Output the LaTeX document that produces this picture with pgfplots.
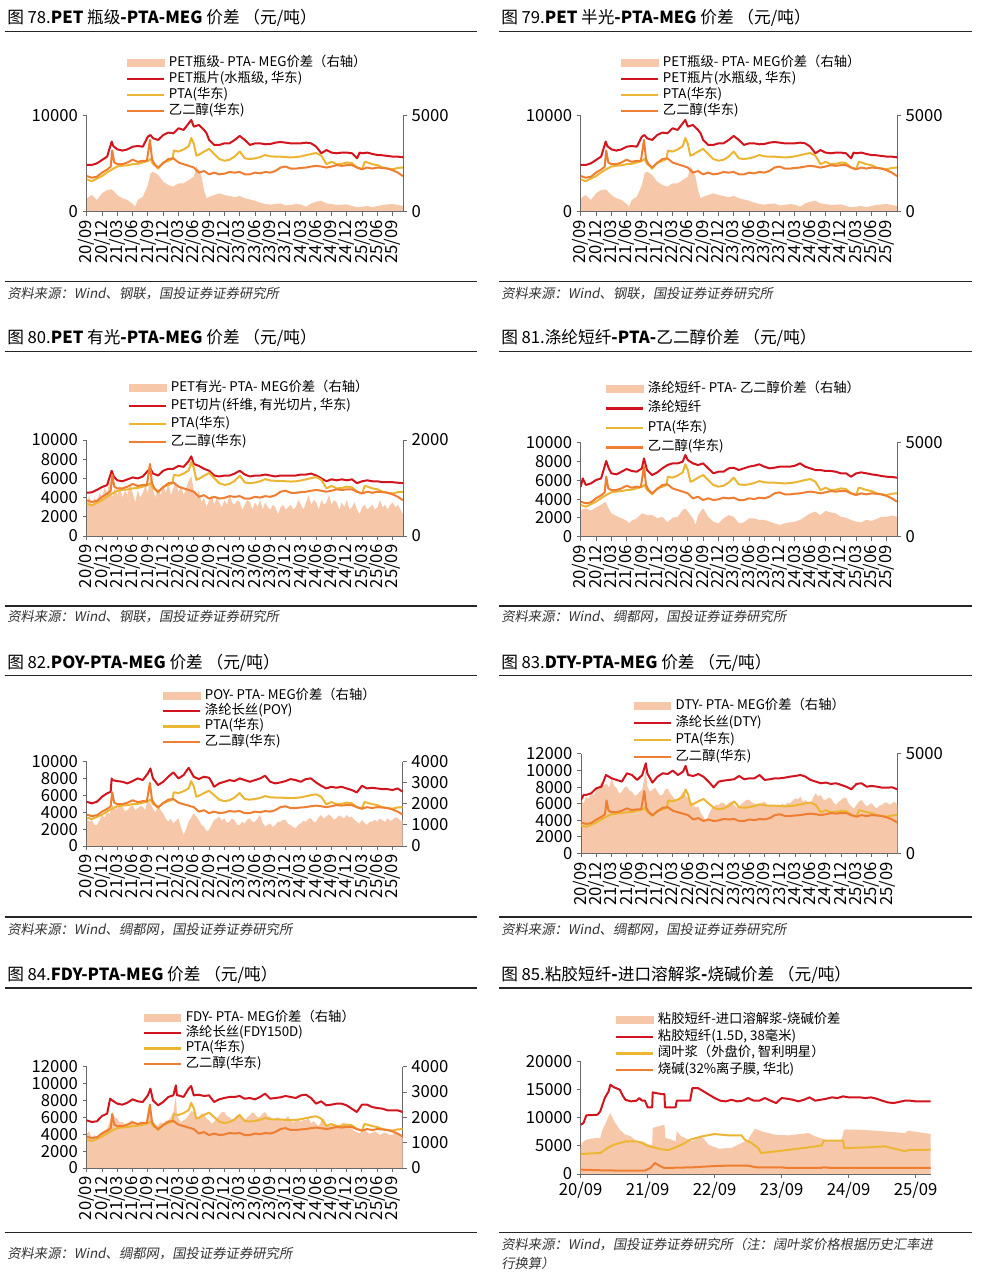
\documentclass[border=0pt]{standalone}
\usepackage{fontspec}
\setmainfont{Noto Sans CJK SC}
\newfontfamily\srcfont{Noto Sans CJK SC}[FakeSlant=0.18]
\usepackage{pgfplots}
\usepackage{pgfplotstable}
\pgfplotsset{compat=1.18}
\definecolor{cred}{RGB}{210,20,30}
\definecolor{cyel}{RGB}{236,182,52}
\definecolor{cora}{RGB}{238,126,50}
\definecolor{carea}{RGB}{247,199,170}
\definecolor{axgray}{RGB}{105,105,105}
\newcommand\titlefont{\fontsize{12.5}{14}\selectfont}
\newcommand\legfont{\fontsize{10}{12}\selectfont}
\newcommand\tickfont{\fontsize{12.5}{13}\selectfont}
\newcommand\srcf{\srcfont\fontsize{10}{12}\selectfont}

\pgfplotsset{
  base/.style={scale only axis, xmin=0, xmax=62,
    scaled y ticks=false, scaled x ticks=false,
    tick style={draw=axgray, line width=0.7pt},
    tick align=outside, major tick length=3pt,
    ticklabel style={font=\tickfont, text=black},
    /pgf/number format/assume math mode=true,
    /pgf/number format/1000 sep={},
    /pgf/number format/fixed},
  nolinearrows/.style={axis line style={-, draw=axgray, line width=0.7pt},
    every outer x axis line/.append style={-},
    every outer y axis line/.append style={-},
    every inner x axis line/.append style={-},
    every inner y axis line/.append style={-}},
  rightax/.style={base, axis y line*=right, axis x line=none, ymin=0, nolinearrows},
  leftax/.style={base, axis y line*=left, axis x line*=bottom, ymin=0, nolinearrows,
    xtick={0,3,...,60},
    xticklabels={20/09,20/12,21/03,21/06,21/09,21/12,22/03,22/06,22/09,22/12,23/03,23/06,23/09,23/12,24/03,24/06,24/09,24/12,25/03,25/06,25/09},
    xticklabel style={rotate=90, anchor=east},
    legend cell align=left,
    legend image code/.code={\draw[##1, line width=1.7pt] (0pt,0pt) -- (27.5pt,0pt);},
    legend style={anchor=north west, draw=none, fill=none, font=\legfont, inner sep=0pt, outer sep=0pt,
      nodes={inner sep=0pt, text height=7pt, text depth=2pt},
      /tikz/every odd column/.append style={column sep=3pt}}},
  areast/.style={fill=carea, draw=none},
  redst/.style={cred, line width=1.5pt, line join=round},
  yelst/.style={cyel, line width=1.5pt, line join=round},
  orast/.style={cora, line width=1.5pt, line join=round},
  areaimg/.style={legend image code/.code={\fill[carea] (0pt,-2.75pt) rectangle (27.5pt,2.75pt);}},
}

% ---------------- shared series ----------------
\pgfplotstableread{
x y
0 3370
1 3190
2 3450
3 3720
4 4100
5 4430
6 4716
7 4800
8 4850
9 4960
10 5000
11 5140
12 5300
12.5 5500
13 5000
13.5 4790
14 4500
15 5140
16 5300
16.8 5500
17.1 6380
18 6280
19 6500
20 6840
20.5 7700
21 7090
21.5 5850
22 5950
23 6280
24 6560
25 6030
26 5500
27 5320
28 5425
29 5745
30 6280
31 5570
32 5500
33 5570
34 5700
35 5920
36 5780
37 5750
38 5745
39 5700
40 5670
41 5700
42 5780
43 5900
44 6030
45 6130
46 5850
47 4960
48 5210
49 4960
50 5000
51 5140
52 5070
53 4610
54 4430
54.5 5210
55 5150
56 4960
57 4860
58 4610
59 4500
60 4430
61 4570
62 4610
}\pta
\pgfplotstableread{
x y
0 3720
1 3550
2 3650
3 4080
4 4400
4.7 4700
5.0 6380
5.4 5150
6 4960
7 4960
8 5140
9 5425
10 5210
11 5320
11.8 5300
12.4 7500
12.8 5500
13.3 4960
14 4610
15 5070
16 5500
17 5570
18 5140
19 4960
20 4790
21 4610
22 4080
23 4250
24 3900
25 4080
26 3900
27 3970
28 4150
29 4080
30 4150
31 3900
32 3900
33 4080
34 4000
35 4150
36 4080
37 4250
38 4610
39 4716
40 4500
41 4500
42 4570
43 4610
44 4716
45 4790
46 4716
47 4610
48 4716
49 4860
50 4790
51 4860
52 4860
53 4610
54 4430
55 4610
56 4500
57 4610
58 4570
59 4500
60 4330
61 4080
62 3720
}\meg

% ---------------- panel 78/79 ----------------
\pgfplotstableread{
x y
0 4880
1 4880
2 5050
3 5400
4 5750
4.9 7320
5.2 6860
6 6510
7 6380
8 6510
9 6790
10 6860
11 6790
12 7840
12.5 8010
13 7670
14 7490
15 8010
16 8260
17 8190
18 8710
19 8540
20 9230
20.5 9580
21 8880
22 9060
23 8540
23.5 8190
24 7490
25 6970
26 6970
27 7140
28 7140
29 7490
30 7910
31 7490
32 6970
33 7140
34 7140
35 7040
36 7070
37 7210
38 7280
39 7210
40 7140
41 7140
42 7140
43 7210
44 7140
45 6790
46 6100
47 6440
48 6170
49 6100
50 6170
51 6170
52 6100
53 5570
53.5 6170
54 6100
55 6170
56 6030
57 5920
58 5890
59 5820
60 5750
61 5750
62 5680
}\redA
\pgfplotstableread{
x y
0 700
1 870
2 610
3 960
4 1130
4.8 1170
5.2 1100
6 870
7 700
8 610
9 400
9.5 260
10 610
11 780
12 1390
12.5 2000
13 2090
14 1920
15 1570
16 1390
17 1310
18 1480
19 1480
20 1650
21 1830
21.5 2350
22 2180
22.5 1830
23 1130
23.5 700
24 780
25 870
26 960
27 870
28 820
29 750
30 820
31 700
32 640
33 570
34 470
35 400
36 370
37 400
38 430
39 330
40 350
41 400
42 370
43 260
44 430
45 520
46 570
47 430
48 400
49 350
50 370
51 380
52 300
53 230
54 260
55 300
56 230
57 300
58 350
59 380
60 400
61 350
62 300
}\areaA

% ---------------- panel 80 ----------------
\pgfplotstableread{
x y
0 4500
1 4550
2 4800
3 5100
4 5300
4.9 6800
5.3 6200
6 5800
7 5700
8 5900
9 6100
10 6000
11 6200
12 6800
12.5 7000
13 6500
14 6300
15 6800
16 7000
17 7000
18 7300
19 7200
20 7800
20.5 8300
21 7500
22 7300
23 7000
24 6800
25 6300
26 6200
27 6300
28 6300
29 6500
30 6800
31 6400
32 6200
33 6300
34 6300
35 6400
36 6300
37 6200
38 6300
39 6300
40 6300
41 6300
42 6400
43 6400
44 6500
45 6300
46 6000
47 5700
48 5900
49 5800
50 5900
51 5800
52 5900
53 5500
54 5700
55 5800
56 5700
57 5700
58 5600
59 5600
60 5600
61 5550
62 5500
}\redB
\pgfplotstableread{
x y
0 650
0.5 850
1 600
1.5 800
2 700
2.5 900
3 800
3.5 1000
4 900
4.5 1150
5 800
5.5 1000
6 850
6.5 1050
7 800
7.5 950
8 850
8.5 1100
9 900
9.5 700
10 950
10.5 800
11 900
11.5 1050
12 900
12.5 1250
13 950
13.5 800
14 1000
14.5 850
15 1050
15.5 900
16 1100
16.5 850
17 1000
17.5 1150
18 900
18.5 1050
19 850
19.5 1000
20 1150
20.5 1250
21 950
21.5 800
22 950
22.5 700
23 800
23.5 600
24 750
24.5 850
25 650
25.5 800
26 700
26.5 600
27 750
27.5 650
28 850
28.5 700
29 650
29.5 750
30 700
30.5 550
31 650
31.5 750
32 700
32.5 550
33 700
33.5 600
34 750
34.5 550
35 700
35.5 600
36 550
36.5 650
37 600
37.5 450
38 600
38.5 650
39 550
39.5 600
40 650
40.5 550
41 600
41.5 750
42 650
42.5 550
43 700
43.5 850
44 650
44.5 750
45 700
45.5 550
46 750
46.5 650
47 700
47.5 850
48 650
48.5 750
49 700
49.5 550
50 700
50.5 600
51 750
51.5 550
52 600
52.5 700
53 550
53.5 450
54 600
54.5 650
55 550
55.5 600
56 650
56.5 550
57 600
57.5 750
58 600
58.5 650
59 550
59.5 650
60 700
60.5 600
61 650
61.5 550
62 450
}\areaB

% ---------------- panel 81 ----------------
\pgfplotstableread{
x y
0 5300
0.4 6200
1 5500
2 5670
3 6030
4 6200
5 8050
5.5 7270
6 6740
7 6630
8 6910
9 7200
10 6990
11 6910
12 7270
12.4 8330
13 7090
14 6560
15 6840
16 7270
17 7620
18 7800
19 7800
20 7980
20.5 8690
21 8150
22 7800
23 7620
24 7800
25 7270
26 6740
27 6910
28 6910
29 7270
30 7340
31 7090
32 7270
33 7450
34 7550
35 7700
36 7450
37 7270
38 7340
39 7450
40 7450
41 7450
42 7550
43 7800
44 7450
45 7270
46 7090
47 7090
48 6990
49 6990
50 6910
51 6740
52 6740
53 6380
54 6740
55 6840
56 6740
57 6630
58 6560
59 6450
60 6380
61 6350
62 6280
}\redC
\pgfplotstableread{
x y
0 1420
1 1500
2 1400
3 1550
4 1700
4.8 1860
6 1240
7 1100
8 975
9 850
9.5 710
10 850
11 975
12 1240
13 1150
14 1150
15 975
16 1060
17 760
18 1010
19 1060
20 1420
20.5 1500
21 1330
22 975
22.5 620
23 1150
24 1510
25 1060
26 800
27 710
28 975
29 1150
30 1060
31 710
32 760
33 975
34 975
35 890
36 890
37 800
38 710
39 620
40 710
41 760
42 800
43 890
44 1060
45 1240
46 1330
47 1150
48 1370
49 1290
50 1240
51 1060
52 1010
53 890
54 800
55 760
56 890
57 840
58 940
59 1060
60 1060
61 1120
62 1060
}\areaC

% ---------------- panel 82 ----------------
\pgfplotstableread{
x y
0 5250
1 5060
2 5250
3 5850
4 6240
4.7 6440
4.9 8020
5 7820
6 7700
7 7620
8 7430
9 7700
10 8020
11 7820
12 8610
12.5 9200
13 8020
14 7230
15 7620
16 8220
17 8730
18 8020
19 8410
20 9280
21 8220
22 7940
23 8220
24 8100
24.5 7620
25 7030
26 7430
27 7620
28 7820
29 7700
30 8020
31 7820
32 7620
33 7820
34 8020
35 8330
36 7620
37 7430
38 7540
39 7700
40 7940
41 7820
42 7620
43 7940
44 8020
45 7540
46 7150
47 6830
48 7030
49 6910
50 7030
51 6830
52 6640
53 6360
54 7150
55 6830
56 6910
57 6830
58 6750
59 6750
60 6640
61 6830
62 6440
}\redD
\pgfplotstableread{
x y
0 1310
0.5 1150
1 1230
1.5 1000
2 995
2.5 1200
3 1470
3.5 1350
4 1630
4.5 1500
5 1940
5.5 1750
6 1790
6.5 1900
7 1860
7.5 1650
8 1710
8.5 1850
9 1940
9.5 1700
10 1790
10.5 1900
11 1860
11.5 1700
12 2260
12.5 2000
13 1790
13.5 1600
14 1940
14.5 1700
15 1550
15.5 1300
16 1150
16.5 1300
17 1070
17.5 1200
18 1310
18.5 900
19 520
19.5 800
20 1150
20.5 1350
21 1550
21.5 1400
22 1230
22.5 1000
23 920
23.5 700
24 760
24.5 1000
25 1230
25.5 1300
26 1390
26.5 1200
27 1310
27.5 1100
28 1150
28.5 1300
29 1230
29.5 1000
30 995
30.5 1150
31 1070
31.5 1250
32 1310
32.5 1150
33 1150
33.5 1300
34 1470
34.5 1100
35 920
35.5 1000
36 1070
36.5 900
37 995
37.5 1150
38 1150
38.5 1250
39 1230
39.5 1050
40 995
40.5 900
41 840
41.5 1000
42 1070
42.5 1200
43 1150
43.5 1300
44 1310
44.5 1150
45 1150
45.5 1350
46 1470
46.5 1300
47 1390
47.5 1500
48 1390
48.5 1250
49 1310
49.5 1450
50 1390
50.5 1300
51 1470
51.5 1350
52 1390
52.5 1250
53 1150
53.5 1050
54 1230
54.5 1100
55 995
55.5 1150
56 1150
56.5 1250
57 1150
57.5 1300
58 1230
58.5 1150
59 1310
59.5 1200
60 1230
60.5 1350
61 1340
61.5 1200
62 1230
}\areaD

% ---------------- panel 83 ----------------
\pgfplotstableread{
x y
0 6440
0.5 7050
1 7050
2 7250
3 7850
4 8050
4.9 9460
6 9060
7 8860
8 8660
9 9660
10 9460
11 8860
12 9460
12.7 10870
13 9660
14 8540
15 9260
16 9660
17 9580
18 9990
19 9460
20 9860
20.5 10550
21 9460
22 9340
23 9580
24 9260
25 8660
26 7970
27 8660
28 8780
29 8860
30 8940
31 9340
32 8940
33 9060
34 9060
35 9460
36 8860
37 8940
38 9060
39 9060
40 9140
41 9260
42 9340
43 9460
44 9260
45 8860
46 8660
47 8460
48 8540
49 8380
50 8460
51 8260
52 8050
53 7730
54 8380
55 8460
56 8050
57 8130
58 8050
59 7930
60 7930
61 7970
62 7730
}\redE
\pgfplotstableread{
x y
0 2680
0.5 2500
1 2850
1.5 2750
2 3020
2.5 2900
3 3190
3.5 3300
4 3600
4.5 3400
5 3520
5.5 3300
6 3770
6.5 3400
7 3270
7.5 3000
8 3100
8.5 3300
9 3360
9.5 3150
10 3100
10.5 2900
11 2940
11.5 3100
12 3190
12.7 4190
13 3360
13.5 3100
14 3190
14.5 3300
15 3100
15.5 2900
16 2940
16.5 3200
17 3270
17.5 3000
18 2850
18.5 2700
19 2680
19.5 2900
20 3100
20.5 2900
21 2770
21.5 2600
22 2430
22.5 2300
23 2350
23.5 2000
24 1850
24.5 1600
25 1930
25.5 2200
26 2350
26.5 2450
27 2430
27.5 2550
28 2520
28.5 2400
29 2550
29.5 2600
30 2430
30.5 2300
31 2350
31.5 2500
32 2600
32.5 2700
33 2680
33.5 2550
34 2520
34.5 2400
35 2430
35.5 2550
36 2600
36.5 2450
37 2430
37.5 2350
38 2350
38.5 2450
39 2380
39.5 2500
40 2430
40.5 2550
41 2520
41.5 2650
42 2770
42.5 2700
43 2850
43.5 2600
44 2680
44.5 2550
45 2520
45.5 2800
46 3020
46.5 2850
47 2940
47.5 2700
48 2680
48.5 2800
49 2770
49.5 2550
50 2430
50.5 2600
51 2680
51.5 2800
52 2770
52.5 2500
53 2350
53.5 2250
54 2430
54.5 2600
55 2680
55.5 2500
56 2350
56.5 2450
57 2520
57.5 2350
58 2260
58.5 2400
59 2430
59.5 2550
60 2550
60.5 2450
61 2520
61.5 2600
62 2430
}\areaE

% ---------------- panel 84 ----------------
\pgfplotstableread{
x y
0 5640
1 5450
2 5530
3 6160
4 6430
4.6 8210
5 8010
6 7620
7 7500
8 7740
9 8130
10 7900
11 7820
12 8600
12.5 9390
13 8010
14 7420
15 7820
16 8410
17 8600
17.5 9790
17.7 8600
18 8600
19 8410
20 9390
20.5 9710
21 8600
22 8680
23 8530
24 8600
25 7820
26 8130
27 8290
28 8410
29 8410
30 8530
31 8210
32 8290
33 8130
34 8410
35 8800
36 8210
37 8290
38 8370
39 8530
40 8410
41 8290
42 8600
43 8680
44 8290
45 7620
46 7900
47 7420
48 7500
49 7620
50 7620
51 7420
52 7030
53 6630
54 7500
55 7500
56 7220
57 7100
58 7030
59 6830
60 6830
61 6830
62 6630
}\redF
\pgfplotstableread{
x y
0 1360
0.5 1450
1 1160
1.5 1300
2 1220
2.5 1350
3 1420
3.5 1500
4 1550
4.5 1800
5 2210
5.5 2000
6 1950
6.5 1800
7 1820
7.5 1700
8 1750
8.5 1850
9 1880
9.5 1750
10 1750
10.5 1850
11 1820
11.5 1700
12 1950
12.5 2300
13 1820
13.5 1700
14 1680
14.5 1800
15 1750
15.5 1850
16 1880
16.5 2000
17 2210
17.5 2870
17.7 2100
18 1950
18.5 1800
19 1880
19.5 1950
20 2080
20.5 2250
21 2210
21.5 2000
22 2010
22.5 2150
23 2140
23.5 1950
24 1880
24.5 1750
25 1820
25.5 1950
26 2080
26.5 2200
27 2210
27.5 2050
28 2010
28.5 1900
29 1950
29.5 2100
30 2080
30.5 1950
31 1880
31.5 2000
32 2080
32.5 2200
33 2140
33.5 2000
34 2010
34.5 2150
35 2210
35.5 2050
36 2010
36.5 1900
37 1950
37.5 2000
38 1920
38.5 1850
39 1950
39.5 2050
40 1880
40.5 1800
41 1880
41.5 1950
42 1820
42.5 1900
43 1880
43.5 2000
44 1750
44.5 1850
45 1750
45.5 1650
46 1840
46.5 1950
47 1750
47.5 1650
48 1680
48.5 1750
49 1710
49.5 1650
50 1750
50.5 1800
51 1680
51.5 1600
52 1550
52.5 1450
53 1420
53.5 1350
54 1490
54.5 1550
55 1420
55.5 1350
56 1390
56.5 1450
57 1390
57.5 1300
58 1360
58.5 1400
59 1360
59.5 1300
60 1320
60.5 1380
61 1320
61.5 1250
62 1220
}\areaF

% ---------------- panel 85 ----------------
\pgfplotstableread{
x y
0 8780
0.5 9080
1 10450
3 10560
3.5 11160
4.3 13530
5 14720
5.3 15900
6 15430
7 15020
7.5 14000
8 13230
9 12940
10 13060
10.5 13530
11 13060
11.5 13060
12 11870
12.8 11870
12.9 14540
13.5 14420
14.5 14240
15.0 14240
15.1 11870
17 11870
17.2 13060
19.6 13060
20.0 15310
21 15310
22 14720
23 14120
24 13530
25 13060
26 12940
27 13230
28 12940
29 13060
30 13530
31 13060
32 13060
33 13530
34 13060
35 12640
36 13530
37 13410
38 13230
39 12940
40 13230
41 13650
42 13060
43 13230
44 13410
45 13650
46 13530
47 13830
48 13650
49 13650
50 13650
51 13530
52 13650
53 13410
54 13060
55 12760
56 12640
57 12820
58 13060
59 13060
60 12940
61 12940
62.7 12940
}\redG
\pgfplotstableread{
x y
0 3560
3.5 3740
5 4750
6 5220
8 5820
10 5820
11 5520
12 5000
14.5 4400
15.7 4250
17 4750
18.7 5520
19.6 6110
21.7 6700
24 7120
26.5 6880
28.8 6880
29.4 6110
30.6 5520
31.8 4630
32.3 3740
36 4150
40.8 4750
43.2 5100
43.5 5930
47 5930
47.2 4630
51.5 4750
54.5 4930
55.7 4630
58.1 4040
58.7 4270
62.7 4330
}\yelG
\pgfplotstableread{
x y
0 770
4 650
8 590
11.5 600
12.5 1070
13.3 1960
14.3 1370
15 1070
20 1190
24 1420
26 1480
30 1480
31.5 1190
36 1190
37 1070
43 1070
43.5 1190
45 1070
62.7 1070
}\oraG
\pgfplotstableread{
x y
0 4630
0.2 5520
1 6110
2.6 6410
3.5 6410
3.8 7600
5 10270
5.3 10860
6 9380
7 7890
8 7000
9 6700
10 5820
11 5820
12 5340
12.8 5100
12.9 8190
13.9 8490
15.0 8780
15.2 6410
16.3 6110
17 5820
17.2 7600
18 6700
18.7 6410
20 5820
21.7 6700
22.9 5220
24.7 4510
27 4630
28.8 5520
30 6110
31.2 8070
32.4 7600
34.8 7000
37.2 6880
40.8 7300
42 6700
44.4 5930
46.7 6110
47.2 7890
50 7890
52.7 7720
55.7 7480
58.1 7300
58.7 7720
62.7 7120
}\areaG

\begin{document}
\begin{tikzpicture}[x=0.75pt, y=0.75pt]
\useasboundingbox (0,0) rectangle (982,1278);

% ===== titles, rules, sources =====
\begin{scope}[every node/.style={anchor=west, inner sep=0pt}]
\node[font=\titlefont] at (7,1259.7) {图 78.\textbf{PET} 瓶级\textbf{-PTA-MEG} 价差 （元/吨）};
\node[font=\titlefont] at (501,1259.7) {图 79.\textbf{PET} 半光\textbf{-PTA-MEG} 价差 （元/吨）};
\node[font=\titlefont] at (7,939.7) {图 80.\textbf{PET} 有光\textbf{-PTA-MEG} 价差 （元/吨）};
\node[font=\titlefont] at (501,939.7) {图 81.涤纶短纤\textbf{-PTA-}乙二醇价差 （元/吨）};
\node[font=\titlefont] at (7,615.3) {图 82.\textbf{POY-PTA-MEG} 价差 （元/吨）};
\node[font=\titlefont] at (501,615.3) {图 83.\textbf{DTY-PTA-MEG} 价差 （元/吨）};
\node[font=\titlefont] at (7,303) {图 84.\textbf{FDY-PTA-MEG} 价差 （元/吨）};
\node[font=\titlefont] at (501,303) {图 85.粘胶短纤\textbf{-}进口溶解浆\textbf{-}烧碱价差 （元/吨）};
\node[font=\srcf, text=black!80] at (7,984.7) {资料来源：Wind、钢联，国投证券证券研究所};
\node[font=\srcf, text=black!80] at (501,984.7) {资料来源：Wind、钢联，国投证券证券研究所};
\node[font=\srcf, text=black!80] at (7,661.3) {资料来源：Wind、钢联，国投证券证券研究所};
\node[font=\srcf, text=black!80] at (501,661.3) {资料来源：Wind、绸都网，国投证券证券研究所};
\node[font=\srcf, text=black!80] at (7,348) {资料来源：Wind、绸都网，国投证券证券研究所};
\node[font=\srcf, text=black!80] at (501,348) {资料来源：Wind、绸都网，国投证券证券研究所};
\node[font=\srcf, text=black!80] at (7,24.7) {资料来源：Wind、绸都网，国投证券证券研究所};
\node[font=\srcf, text=black!80] at (501,33) {资料来源：Wind，国投证券证券研究所（注：阔叶浆价格根据历史汇率进};
\node[font=\srcf, text=black!80] at (501,15) {行换算）};
\end{scope}
\begin{scope}[line width=1.1pt, black!85]
\foreach \yy in {1246.3,996.3,926.3,672,602.3,361,290,45.3} {
  \draw (4.7,\yy) -- (476.7,\yy);
  \draw (499,\yy) -- (971.7,\yy);
}
\end{scope}

% ===== panel 78 =====
\begin{axis}[rightax, at={(65.03pt,799.73pt)}, anchor=south west, width=237.2pt, height=71.8pt, ymax=5000, ytick={0,5000}]
\addplot[areast] table {\areaA} \closedcycle;
\end{axis}
\begin{axis}[leftax, at={(65.03pt,799.73pt)}, anchor=south west, width=237.2pt, height=71.8pt, ymax=10000, ytick={0,10000},
  legend style={at={(0.1243,1.6165)}, row sep=3pt}]
\addlegendimage{areaimg}\addlegendentry{PET瓶级- PTA- MEG价差（右轴）}
\addplot[redst] table {\redA}; \addlegendentry{PET瓶片(水瓶级, 华东)}
\addplot[yelst] table {\pta}; \addlegendentry{PTA(华东)}
\addplot[orast] table {\meg}; \addlegendentry{乙二醇(华东)}
\end{axis}

% ===== panel 79 =====
\begin{axis}[rightax, at={(435.53pt,799.73pt)}, anchor=south west, width=237.2pt, height=71.8pt, ymax=5000, ytick={0,5000}]
\addplot[areast] table {\areaA} \closedcycle;
\end{axis}
\begin{axis}[leftax, at={(435.53pt,799.73pt)}, anchor=south west, width=237.2pt, height=71.8pt, ymax=10000, ytick={0,10000},
  legend style={at={(0.1243,1.6165)}, row sep=3pt}]
\addlegendimage{areaimg}\addlegendentry{PET瓶级- PTA- MEG价差（右轴）}
\addplot[redst] table {\redA}; \addlegendentry{PET瓶片(水瓶级, 华东)}
\addplot[yelst] table {\pta}; \addlegendentry{PTA(华东)}
\addplot[orast] table {\meg}; \addlegendentry{乙二醇(华东)}
\end{axis}

% ===== panel 80 =====
\begin{axis}[rightax, at={(65.03pt,556.5pt)}, anchor=south west, width=237.2pt, height=72pt, ymax=2000, ytick={0,2000}]
\addplot[areast] table {\areaB} \closedcycle;
\end{axis}
\begin{axis}[leftax, at={(65.03pt,556.5pt)}, anchor=south west, width=237.2pt, height=72pt, ymax=10000, ytick={0,2000,...,10000},
  legend style={at={(0.1306,1.604)}, row sep=4.5pt}]
\addlegendimage{areaimg}\addlegendentry{PET有光- PTA- MEG价差（右轴）}
\addplot[redst] table {\redB}; \addlegendentry{PET切片(纤维, 有光切片, 华东)}
\addplot[yelst] table {\pta}; \addlegendentry{PTA(华东)}
\addplot[orast] table {\meg}; \addlegendentry{乙二醇(华东)}
\end{axis}

% ===== panel 81 =====
\begin{axis}[rightax, at={(435.53pt,555.98pt)}, anchor=south west, width=237.2pt, height=70.5pt, ymax=5000, ytick={0,5000}]
\addplot[areast] table {\areaC} \closedcycle;
\end{axis}
\begin{axis}[leftax, at={(435.53pt,555.98pt)}, anchor=south west, width=237.2pt, height=70.5pt, ymax=10000, ytick={0,2000,...,10000},
  legend style={at={(0.0768,1.635)}, row sep=5.6pt}]
\addlegendimage{areaimg}\addlegendentry{涤纶短纤- PTA- 乙二醇价差（右轴）}
\addplot[redst] table {\redC}; \addlegendentry{涤纶短纤}
\addplot[yelst] table {\pta}; \addlegendentry{PTA(华东)}
\addplot[orast] table {\meg}; \addlegendentry{乙二醇(华东)}
\end{axis}

% ===== panel 82 =====
\begin{axis}[rightax, at={(65.03pt,324pt)}, anchor=south west, width=237pt, height=63.2pt, ymax=4000, ytick={0,1000,...,4000}]
\addplot[areast] table {\areaD} \closedcycle;
\end{axis}
\begin{axis}[leftax, at={(65.03pt,324pt)}, anchor=south west, width=237pt, height=63.2pt, ymax=10000, ytick={0,2000,...,10000},
  legend style={at={(0.2383,1.854)}, row sep=2.5pt}]
\addlegendimage{areaimg}\addlegendentry{POY- PTA- MEG价差（右轴）}
\addplot[redst] table {\redD}; \addlegendentry{涤纶长丝(POY)}
\addplot[yelst] table {\pta}; \addlegendentry{PTA(华东)}
\addplot[orast] table {\meg}; \addlegendentry{乙二醇(华东)}
\end{axis}

% ===== panel 83 =====
\begin{axis}[rightax, at={(435.75pt,318.53pt)}, anchor=south west, width=237.2pt, height=74.5pt, ymax=5000, ytick={0,5000}]
\addplot[areast] table {\areaE} \closedcycle;
\end{axis}
\begin{axis}[leftax, at={(435.75pt,318.53pt)}, anchor=south west, width=237.2pt, height=74.5pt, ymax=12000, ytick={0,2000,...,12000},
  legend style={at={(0.1635,1.544)}, row sep=3.75pt}]
\addlegendimage{areaimg}\addlegendentry{DTY- PTA- MEG价差（右轴）}
\addplot[redst] table {\redE}; \addlegendentry{涤纶长丝(DTY)}
\addplot[yelst] table {\pta}; \addlegendentry{PTA(华东)}
\addplot[orast] table {\meg}; \addlegendentry{乙二醇(华东)}
\end{axis}

% ===== panel 84 =====
\begin{axis}[rightax, at={(65.03pt,82.5pt)}, anchor=south west, width=237pt, height=76pt, ymax=4000, ytick={0,1000,...,4000}]
\addplot[areast] table {\areaF} \closedcycle;
\end{axis}
\begin{axis}[leftax, at={(65.03pt,82.5pt)}, anchor=south west, width=237pt, height=76pt, ymax=12000, ytick={0,2000,...,12000},
  legend style={at={(0.178,1.540)}, row sep=2.5pt}]
\addlegendimage{areaimg}\addlegendentry{FDY- PTA- MEG价差（右轴）}
\addplot[redst] table {\redF}; \addlegendentry{涤纶长丝(FDY150D)}
\addplot[yelst] table {\pta}; \addlegendentry{PTA(华东)}
\addplot[orast] table {\meg}; \addlegendentry{乙二醇(华东)}
\end{axis}

% ===== panel 85 =====
\begin{axis}[base, axis y line*=left, axis x line*=bottom, nolinearrows,
  at={(435.53pt,78pt)}, anchor=south west, width=262.5pt, height=84.2pt,
  xmin=0, xmax=62.7, ymin=0, ymax=20000, ytick={0,5000,...,20000},
  xtick={0,12,...,60}, xticklabels={20/09,21/09,22/09,23/09,24/09,25/09},
  legend cell align=left,
  legend image code/.code={\draw[#1, line width=1.7pt] (0pt,0pt) -- (27.5pt,0pt);},
  legend style={at={(0.098,1.4248)}, anchor=north west, draw=none, fill=none, font=\legfont, inner sep=0pt, outer sep=0pt,
    nodes={inner sep=0pt, text height=7pt, text depth=2pt}, row sep=3.5pt,
    /tikz/every odd column/.append style={column sep=3pt}}]
\addplot[areast, forget plot] table {\areaG} \closedcycle;
\addlegendimage{areaimg}\addlegendentry{粘胶短纤-进口溶解浆-烧碱价差}
\addplot[redst] table {\redG}; \addlegendentry{粘胶短纤(1.5D, 38毫米)}
\addplot[yelst] table {\yelG}; \addlegendentry{阔叶浆（外盘价, 智利明星）}
\addplot[orast] table {\oraG}; \addlegendentry{烧碱(32\%离子膜, 华北)}
\end{axis}
\end{tikzpicture}
\end{document}
